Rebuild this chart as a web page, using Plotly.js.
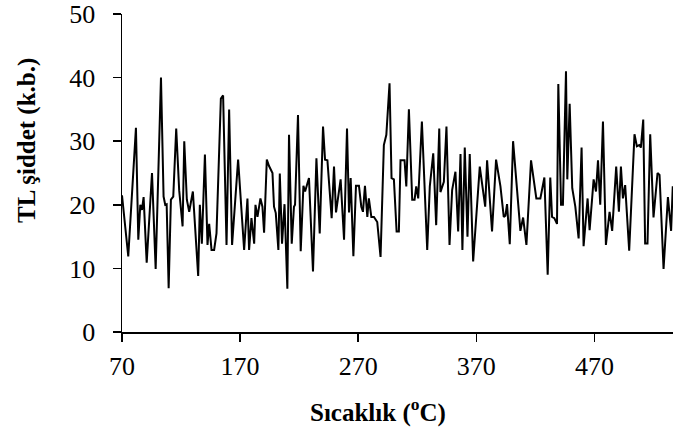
<!DOCTYPE html>
<html>
<head>
<meta charset="utf-8">
<script src="https://cdn.plot.ly/plotly-3.0.1.min.js"></script>
<style>html,body{margin:0;padding:0;background:#fff;}#chart{width:673px;height:437px;}</style>
</head>
<body>
<div id="chart"></div>
<script>
// Temperature (°C)
const temperature = [
70, 75.3, 81.8, 83.8, 85.5, 86.9, 88.3, 90.9, 95.4, 98.5,
103, 105.2, 106.6, 107.8, 109.5, 111.4, 113.4, 115.9, 118.4, 121.3,
122.7, 124.9, 126.9, 130, 134.5, 135.9, 137.6, 140.2, 142.4, 143.8,
145.8, 148, 150, 153.7, 155.6, 158.5, 160.7, 163.2, 168.3, 173.4,
176.2, 177.6, 179.6, 181.9, 183, 184.7, 187.2, 188.9, 190.3, 192.6,
194.5, 197.4, 198.7, 200.2, 202.4, 203.6, 205.5, 207.6, 210, 211.4,
213.7, 215.6, 216.5, 219, 221.3, 223.6, 225, 228.3, 231.7, 234.6,
237.4, 240.2, 241.9, 243.9, 247.5, 249.5, 251.2, 255.1, 258, 260.5,
262.2, 263.6, 265.9, 268.1, 270.6, 272.6, 274, 275.7, 277.7, 279,
281.1, 283.3, 286.1, 288.9, 291.7, 293.8, 296.5, 298.2, 300.2, 302.5,
304.4, 305.8, 309.2, 310.7, 312.9, 315.7, 317.7, 319.1, 320.8, 323.9,
328.4, 330.6, 333.5, 336, 338.6, 339.6, 342.5, 344.7, 347.3, 349.5,
352.3, 354.6, 356.6, 358.2, 360.2, 362.5, 364.4, 367.3, 372.9, 377.5,
379.1, 383.3, 386.7, 390.4, 393.2, 394.6, 396, 398.3, 401.1, 407.3,
409.6, 412.4, 416.3, 420.8, 424.2, 427.6, 430.4, 432.6, 434.1, 436,
438.3, 439.4, 441.7, 443.3, 445.9, 447, 449, 451.2, 453.8, 456.6,
459.1, 460.8, 464.2, 465.9, 469.3, 471.3, 473, 474.9, 477.2, 479.7,
482.8, 485, 488.4, 490.7, 492.4, 494.1, 496, 499.4, 503.9, 505.9,
507.9, 509.3, 511.3, 512.9, 514.9, 517.2, 520, 523.4, 525.1, 528.5,
532.2, 534.9, 536.3
];
// TL intensity (a.u.)
const intensity = [
21.5, 11.9, 32.1, 14.5, 20, 19.2, 21.2, 10.9, 25.0, 9.9,
40.0, 21.3, 20, 20.1, 6.9, 20.8, 21.3, 32.0, 22.3, 16.6,
30.0, 20.8, 18.9, 22.1, 8.8, 20, 13.9, 27.9, 13.7, 17.0,
12.9, 12.9, 15.5, 36.7, 37.2, 13.7, 35.0, 13.7, 27.1, 12.9,
21.0, 12.9, 17.9, 13.9, 20, 18.1, 21, 19.7, 15.6, 27.1,
26.1, 25.0, 19.7, 18.7, 12.9, 24.9, 13.9, 20.1, 6.8, 31.0,
13.9, 19.7, 20, 34.1, 12.7, 23.0, 22.1, 24.2, 9.5, 27.3,
15.5, 32.3, 27.1, 27, 17.9, 26.0, 18.8, 24.0, 14.5, 32.0,
18.8, 24.2, 11.9, 23, 23, 19.7, 18.9, 23, 18.1, 21,
18.1, 18.1, 17.3, 11.8, 29.4, 31.0, 39.1, 24.2, 24, 15.8,
15.8, 27, 27, 22.9, 35, 20.8, 20.8, 22.9, 21, 33.1,
12.9, 22.9, 28.1, 16.8, 32.0, 22.0, 23.6, 32.3, 13.7, 22.3,
25.2, 15.8, 28, 12.9, 29, 15, 28, 11.1, 26, 19.7,
27, 15.8, 27.1, 22.9, 18.1, 18.3, 20.1, 13.8, 30, 15.9,
18, 13.7, 27, 21, 21, 24.3, 9.0, 24.3, 18.1, 17.9,
17, 39, 20, 20, 41, 24, 35.9, 22.6, 19.7, 14.7,
29, 13.5, 21, 16, 24, 22.1, 27, 20, 33.1, 13.7,
18.9, 15.9, 26, 18.9, 26, 21, 23.1, 12.8, 31.1, 29.2,
29.4, 29, 33.4, 13.9, 13.9, 31.1, 18, 25, 24.7, 9.9,
21.2, 15.9, 22.9
];
const xTicks = [70, 170, 270, 370, 470];
const yTicks = [0, 10, 20, 30, 40, 50];

const serif = '"Liberation Serif", "Times New Roman", serif';

Plotly.newPlot('chart', [{
  x: temperature,
  y: intensity,
  type: 'scatter',
  mode: 'lines',
  line: {color: '#000', width: 2, shape: 'linear'},
  hoverinfo: 'skip'
}], {
  width: 673, height: 437,
  margin: {l: 122, r: 0, t: 14, b: 105},
  paper_bgcolor: '#fff', plot_bgcolor: '#fff',
  showlegend: false,
  font: {family: serif, color: '#000', size: 26},
  xaxis: {
    range: [70, 536.5], tickvals: xTicks, ticktext: xTicks.map(String),
    showgrid: false, zeroline: false, showline: true, linecolor: '#000', linewidth: 1.5,
    ticks: 'outside', ticklen: 8, tickwidth: 1.5, tickcolor: '#000',
    ticklabelstandoff: 2,
    tickfont: {family: serif, size: 26, color: '#000'}
  },
  yaxis: {
    range: [0, 50], tickvals: yTicks,
    showgrid: false, zeroline: false, showline: true, linecolor: '#000', linewidth: 1.5,
    ticks: 'outside', ticklen: 8, tickwidth: 1.5, tickcolor: '#000',
    ticklabelstandoff: 12,
    tickfont: {family: serif, size: 26, color: '#000'}
  },
  annotations: [
    {text: '<b>Sıcaklık (<sup>o</sup>C)</b>', xref: 'paper', yref: 'paper', x: 0.4646, y: -0.2484,
     xanchor: 'center', yanchor: 'middle', showarrow: false, font: {family: serif, size: 25, color: '#000'}},
    {text: '<b>TL şiddet (k.b.)</b>', xref: 'paper', yref: 'paper', x: -0.1724, y: 0.6006,
     xanchor: 'center', yanchor: 'middle', textangle: -90, showarrow: false, font: {family: serif, size: 25, color: '#000'}}
  ]
}, {displayModeBar: false, staticPlot: true});
</script>
</body>
</html>
